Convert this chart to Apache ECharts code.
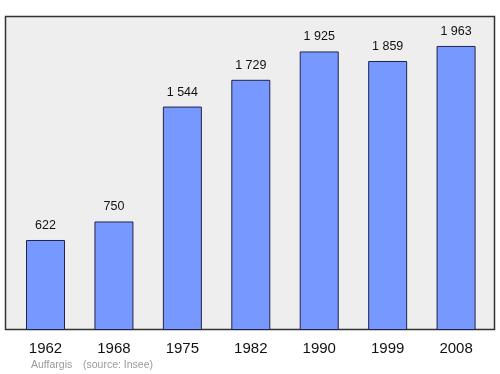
<!DOCTYPE html>
<html><head><meta charset="utf-8">
<script src="https://cdn.jsdelivr.net/npm/echarts@6/dist/echarts.min.js"></script>
<style>html,body{margin:0;padding:0;background:#fff}#c{width:500px;height:374px}</style>
</head><body><div id="c"></div>
<script>
var years = ['1962','1968','1975','1982','1990','1999','2008'];
var population = [622, 750, 1544, 1729, 1925, 1859, 1963];
var footerPlace = 'Auffargis';
var footerSource = '(source: Insee)';

function fmt(v){ return String(v).replace(/\B(?=(\d{3})+(?!\d))/g, ' '); }

var F = '"Liberation Sans", Arial, sans-serif';
var chart = echarts.init(document.getElementById('c'), null, {renderer:'canvas'});
chart.setOption({
  animation:false,
  graphic:[
    {type:'rect', shape:{x:5.5,y:16.5,width:489,height:313}, style:{fill:'#eeeeee', stroke:'#333333', lineWidth:1.5}, z:-10},
    {type:'text', left:31, top:359.5, style:{text:footerPlace, fill:'#999999', font:'10.5px ' + F}},
    {type:'text', left:83, top:359.5, style:{text:footerSource, fill:'#999999', font:'10.5px ' + F}}
  ],
  grid:{left:11.3, width:479, top:17, height:313, show:false},
  xAxis:{type:'category', data:years, axisLine:{show:false}, axisTick:{show:false},
    axisLabel:{color:'#111', fontSize:15, fontFamily:'Liberation Sans', margin:11}},
  yAxis:{type:'value', min:0, max:2163, show:false, splitLine:{show:false}},
  series:[{type:'bar', data:population, barWidth:39,
    itemStyle:{color:'#7799ff', borderColor:'#22224a', borderWidth:1},
    label:{show:true, position:'top', distance:8, color:'#111', fontSize:12.5, fontFamily:'Liberation Sans',
      formatter:function(p){return fmt(p.value);}}
  }]
});
</script></body></html>
